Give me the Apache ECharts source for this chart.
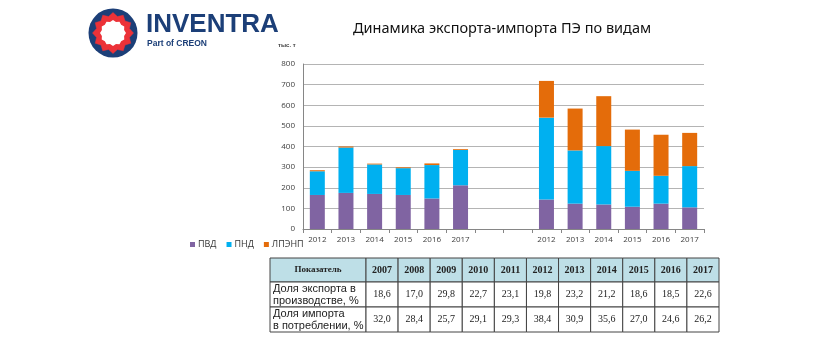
<!DOCTYPE html>
<html><head><meta charset="utf-8">
<script src="https://cdn.jsdelivr.net/npm/echarts@6/dist/echarts.min.js"></script>
<style>html,body{margin:0;padding:0;background:#fff}#c{width:820px;height:341px}</style>
</head><body><div id="c"></div>
<script>
// ---- data ----
var categories = ['2012','2013','2014','2015','2016','2017','','','2012','2013','2014','2015','2016','2017'];
var seriesNames = ['ПВД','ПНД','ЛПЭНП'];
var pvd   = [165,175,170,165,148,212,null,null,143,123,119,108,123,105];
var pnd   = [115,220,143,130,162,171,null,null,397,258,283,174,135,200];
var lpenp = [5,5,4,4,8,4,null,null,178,203,242,200,199,161];
var yTicks = [0,100,200,300,400,500,600,700,800];
var tableHeader = ['Показатель','2007','2008','2009','2010','2011','2012','2013','2014','2015','2016','2017'];
var rowLabels = ['Доля экспорта в\nпроизводстве, %','Доля импорта\nв потреблении, %'];
var exportShare = ['18,6','17,0','29,8','22,7','23,1','19,8','23,2','21,2','18,6','18,5','22,6'];
var importShare = ['32,0','28,4','25,7','29,1','29,3','38,4','30,9','35,6','27,0','24,6','26,2'];
var titleText = 'Динамика экспорта-импорта ПЭ по видам';
var unitText = 'тыс. т';

// ---- layout ----
var colors = ['#8064A2','#00B0F0','#E46C0A'];
var graphics = [];
// logo
var cx = 113, cy = 33;
graphics.push({type:'circle', shape:{cx:cx, cy:cy, r:24.5}, style:{fill:'#1C3F78'}});
function star(n, r1, r2, rot){
  var pts=[];
  for(var i=0;i<n*2;i++){
    var a = rot + Math.PI*i/n;
    var r = i%2===0 ? r1 : r2;
    pts.push([cx + r*Math.cos(a), cy + r*Math.sin(a)]);
  }
  return pts;
}
graphics.push({type:'polygon', shape:{points:star(12,20.5,17,-Math.PI/2)}, style:{fill:'#EC3238', stroke:'#EC3238', lineWidth:0.5}});
graphics.push({type:'polygon', shape:{points:star(12,11.5,13,-Math.PI/2 + Math.PI/12)}, style:{fill:'#ffffff'}});
graphics.push({type:'text', left:146, top:12, style:{text:'INVENTRA', font:'bold 26px "Liberation Sans", Arial, sans-serif', fill:'#1C3F78'}});
graphics.push({type:'text', left:147, top:39, style:{text:'Part of CREON', font:'bold 8.5px "Liberation Sans", Arial, sans-serif', fill:'#1C3F78'}});
// title
graphics.push({type:'text', left:353, top:21, style:{text:titleText, font:'14.5px "Noto Sans", sans-serif', fill:'#111'}});
graphics.push({type:'text', left:278, top:42, style:{text:unitText, font:'bold 6px "Liberation Sans", sans-serif', fill:'#444'}});

// table
var tx = 270, ty = 258, firstW = 96, colW = (719-366)/11;
var rowH = [24,25,25];
var y0 = ty;
for (var r=0;r<3;r++){
  var h = rowH[r];
  var x = tx;
  for (var c=0;c<12;c++){
    var w = c===0 ? firstW : colW;
    graphics.push({type:'rect', shape:{x:x, y:y0, width:w, height:h},
      style:{fill: r===0 ? '#BEDFE7' : '#ffffff', stroke:'#444', lineWidth:1}});
    var txt, font, align='center', tx2 = x + w/2;
    if (r===0){ txt = tableHeader[c]; font = c===0 ? 'bold 9px "Liberation Serif", serif' : 'bold 10px "Liberation Serif", serif'; }
    else if (c===0){ txt = rowLabels[r-1]; font = '11px "Liberation Sans", sans-serif'; align='left'; tx2 = x+3; }
    else { txt = (r===1 ? exportShare : importShare)[c-1]; font = '10px "Liberation Serif", serif'; }
    graphics.push({type:'text', x:tx2, y:y0 + h/2, style:{text:txt, font:font, fill:'#222', align:align, verticalAlign:'middle', lineHeight:12}});
    x += w;
  }
  y0 += h;
}

var chart = echarts.init(document.getElementById('c'));
var data = [pvd, pnd, lpenp];
chart.setOption({
  animation:false,
  color: colors,
  grid:{left:303, right:116, top:64, bottom:112, containLabel:false},
  legend:{left:185, top:235, itemWidth:5, itemHeight:5, itemGap:10, icon:'rect',
    textStyle:{fontSize:9, color:'#333', fontFamily:'"Open Sans", sans-serif', padding:[0,0,0,-2]},
    data: seriesNames},
  xAxis:{type:'category', data:categories,
    axisLine:{lineStyle:{color:'#868686'}},
    axisTick:{show:true, alignWithLabel:false, length:4, lineStyle:{color:'#868686'}},
    axisLabel:{fontSize:8, color:'#404040', margin:7, interval:0, fontFamily:'"Open Sans", sans-serif'}},
  yAxis:{type:'value', min:yTicks[0], max:yTicks[yTicks.length-1], interval:100,
    axisLine:{show:true, lineStyle:{color:'#868686'}},
    axisTick:{show:false},
    splitLine:{lineStyle:{color:'#B4B4B4'}},
    axisLabel:{fontSize:8, color:'#404040', margin:8, fontFamily:'"Open Sans", sans-serif'}},
  series: seriesNames.map(function(n,i){
    return {name:n, type:'bar', stack:'a', barWidth:15, data:data[i], itemStyle:{color:colors[i]}};
  }),
  graphic: graphics
});
</script></body></html>
